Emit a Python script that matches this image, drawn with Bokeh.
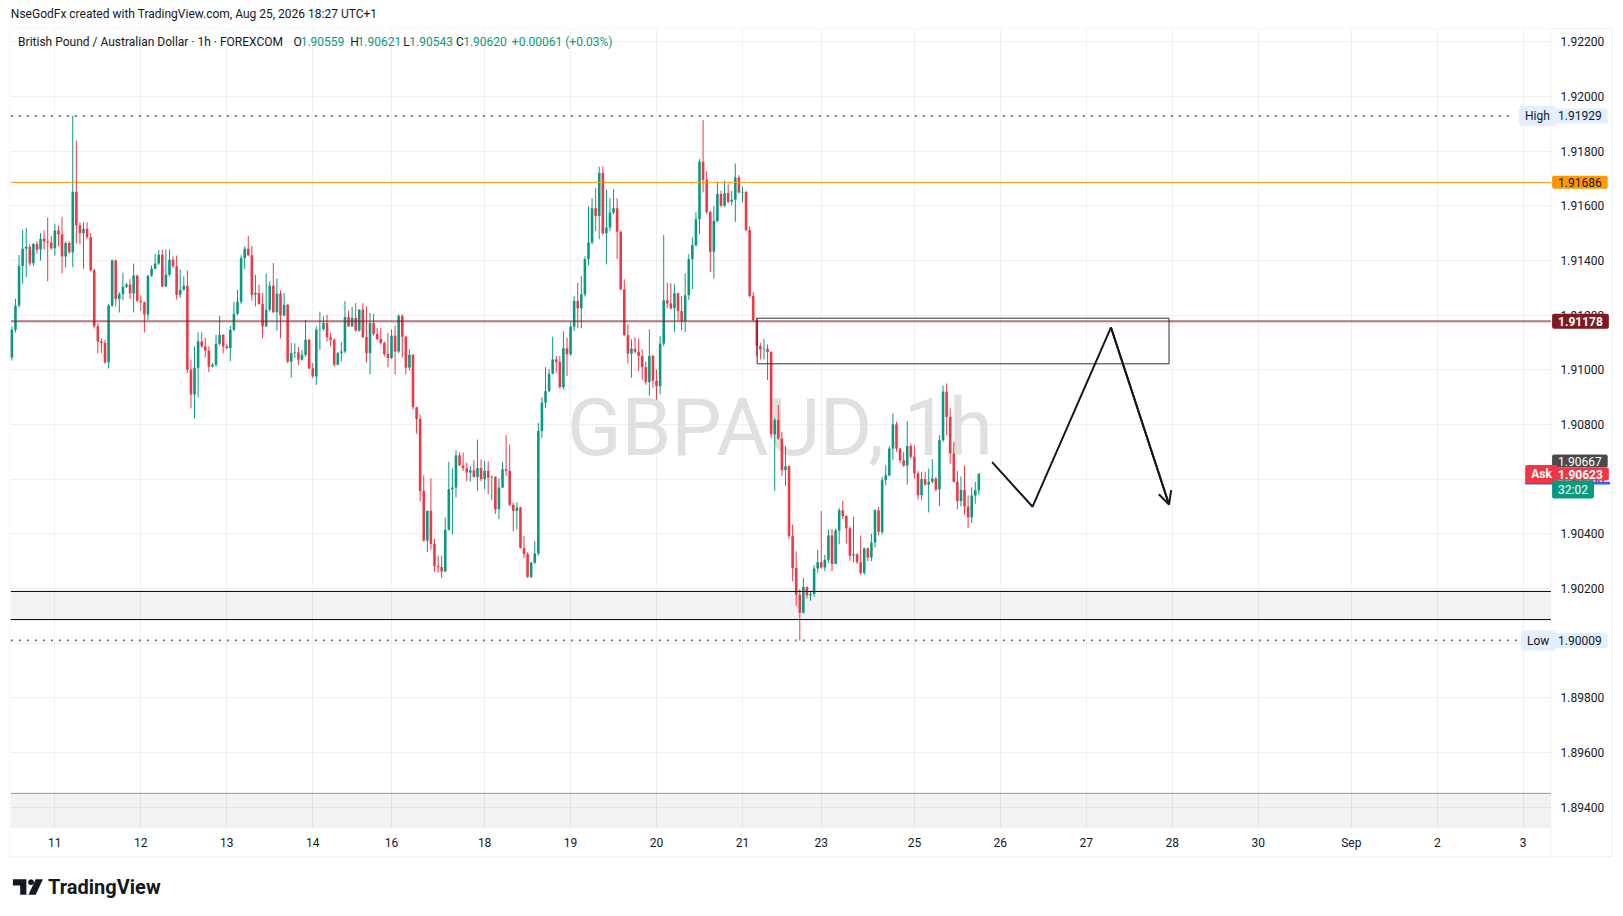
import numpy as np
from bokeh.plotting import figure
from bokeh.models import (ColumnDataSource, Range1d, FixedTicker, PrintfTickFormatter,
                          BoxAnnotation, Label, Arrow, OpenHead, PolyAnnotation)
from bokeh.core.properties import value
from bokeh.embed import file_html
from bokeh.resources import INLINE

# GBPAUD 1h candles, oldest first (bar 0 = Aug 10, 12:00)
opens = [
    1.91045, 1.91147, 1.91235, 1.91380, 1.91443, 1.91450, 1.91390, 1.91460, 1.91440, 1.91480,
    1.91470, 1.91466, 1.91445, 1.91510, 1.91496, 1.91415, 1.91464, 1.91430, 1.91652, 1.91529,
    1.91500, 1.91516, 1.91485, 1.91364, 1.91159, 1.91104, 1.91098, 1.91028, 1.91235, 1.91400,
    1.91259, 1.91277, 1.91304, 1.91312, 1.91279, 1.91345, 1.91253, 1.91247, 1.91202, 1.91345,
    1.91370, 1.91389, 1.91421, 1.91305, 1.91348, 1.91403, 1.91379, 1.91275, 1.91293, 1.91308,
    1.91000, 1.90910, 1.91008, 1.91104, 1.91086, 1.91071, 1.91012, 1.91019, 1.91095, 1.91128,
    1.91085, 1.91080, 1.91147, 1.91205, 1.91249, 1.91408, 1.91443, 1.91419, 1.91275, 1.91281,
    1.91241, 1.91159, 1.91220, 1.91308, 1.91211, 1.91279, 1.91199, 1.91238, 1.91030, 1.91061,
    1.91064, 1.91037, 1.91055, 1.91110, 1.91005, 1.90976, 1.91147, 1.91149, 1.91171, 1.91119,
    1.91110, 1.91019, 1.91061, 1.91067, 1.91193, 1.91159, 1.91190, 1.91144, 1.91220, 1.91120,
    1.91061, 1.91171, 1.91131, 1.91113, 1.91098, 1.91058, 1.91043, 1.91125, 1.91067, 1.91197,
    1.91121, 1.91008, 1.91055, 1.90863, 1.90820, 1.90557, 1.90375, 1.90484, 1.90363, 1.90282,
    1.90278, 1.90262, 1.90415, 1.90563, 1.90569, 1.90687, 1.90650, 1.90640, 1.90624, 1.90632,
    1.90608, 1.90640, 1.90600, 1.90630, 1.90606, 1.90608, 1.90490, 1.90569, 1.90636, 1.90630,
    1.90506, 1.90484, 1.90496, 1.90348, 1.90326, 1.90242, 1.90294, 1.90328, 1.90776, 1.90880,
    1.90922, 1.90986, 1.91038, 1.91029, 1.90937, 1.91079, 1.91057, 1.91158, 1.91252, 1.91225,
    1.91276, 1.91405, 1.91466, 1.91591, 1.91563, 1.91720, 1.91500, 1.91521, 1.91576, 1.91591,
    1.91505, 1.91295, 1.91127, 1.91059, 1.91077, 1.91066, 1.91051, 1.91010, 1.90955, 1.91051,
    1.90960, 1.90940, 1.91096, 1.91254, 1.91243, 1.91225, 1.91280, 1.91215, 1.91179, 1.91273,
    1.91405, 1.91456, 1.91551, 1.91761, 1.91695, 1.91578, 1.91432, 1.91545, 1.91643, 1.91600,
    1.91646, 1.91615, 1.91622, 1.91704, 1.91649, 1.91651, 1.91512, 1.91270, 1.91182, 1.91087,
    1.91075, 1.91077, 1.91065, 1.90764, 1.90816, 1.90749, 1.90633, 1.90647, 1.90392, 1.90275,
    1.90177, 1.90111, 1.90205, 1.90175, 1.90180, 1.90273, 1.90296, 1.90277, 1.90305, 1.90394,
    1.90290, 1.90412, 1.90486, 1.90465, 1.90420, 1.90320, 1.90325, 1.90296, 1.90257, 1.90346,
    1.90313, 1.90368, 1.90486, 1.90407, 1.90596, 1.90614, 1.90712, 1.90800, 1.90712, 1.90669,
    1.90649, 1.90721, 1.90682, 1.90621, 1.90541, 1.90600, 1.90580, 1.90590, 1.90602, 1.90562,
    1.90743, 1.90920, 1.90828, 1.90694, 1.90590, 1.90520, 1.90560, 1.90500, 1.90460, 1.90540,
    1.90559,
]
highs = [
    1.91159, 1.91260, 1.91420, 1.91513, 1.91520, 1.91460, 1.91464, 1.91470, 1.91500, 1.91510,
    1.91557, 1.91490, 1.91535, 1.91528, 1.91560, 1.91470, 1.91470, 1.91929, 1.91838, 1.91540,
    1.91540, 1.91540, 1.91500, 1.91370, 1.91171, 1.91115, 1.91110, 1.91242, 1.91404, 1.91404,
    1.91284, 1.91356, 1.91318, 1.91332, 1.91389, 1.91348, 1.91273, 1.91250, 1.91345, 1.91382,
    1.91424, 1.91439, 1.91439, 1.91441, 1.91441, 1.91415, 1.91418, 1.91367, 1.91342, 1.91363,
    1.91037, 1.91086, 1.91138, 1.91138, 1.91117, 1.91086, 1.91025, 1.91128, 1.91198, 1.91130,
    1.91095, 1.91161, 1.91249, 1.91293, 1.91419, 1.91452, 1.91491, 1.91454, 1.91348, 1.91312,
    1.91281, 1.91353, 1.91324, 1.91391, 1.91334, 1.91291, 1.91281, 1.91242, 1.91098, 1.91097,
    1.91084, 1.91073, 1.91183, 1.91113, 1.91025, 1.91159, 1.91213, 1.91196, 1.91202, 1.91135,
    1.91115, 1.91065, 1.91102, 1.91251, 1.91216, 1.91230, 1.91244, 1.91222, 1.91244, 1.91232,
    1.91208, 1.91205, 1.91153, 1.91153, 1.91104, 1.91135, 1.91147, 1.91161, 1.91204, 1.91204,
    1.91125, 1.91075, 1.91058, 1.90865, 1.90836, 1.90614, 1.90485, 1.90603, 1.90381, 1.90320,
    1.90320, 1.90460, 1.90664, 1.90640, 1.90705, 1.90697, 1.90697, 1.90660, 1.90648, 1.90669,
    1.90745, 1.90672, 1.90666, 1.90666, 1.90614, 1.90610, 1.90602, 1.90663, 1.90761, 1.90727,
    1.90515, 1.90515, 1.90499, 1.90391, 1.90332, 1.90298, 1.90373, 1.90806, 1.90900, 1.91010,
    1.91002, 1.91121, 1.91051, 1.91051, 1.91141, 1.91118, 1.91173, 1.91270, 1.91319, 1.91344,
    1.91415, 1.91598, 1.91628, 1.91665, 1.91743, 1.91744, 1.91659, 1.91628, 1.91661, 1.91628,
    1.91510, 1.91331, 1.91167, 1.91112, 1.91118, 1.91114, 1.91075, 1.91030, 1.91148, 1.91055,
    1.91000, 1.91124, 1.91493, 1.91319, 1.91317, 1.91313, 1.91283, 1.91270, 1.91353, 1.91423,
    1.91484, 1.91576, 1.91771, 1.91914, 1.91726, 1.91582, 1.91600, 1.91688, 1.91655, 1.91692,
    1.91679, 1.91655, 1.91755, 1.91712, 1.91671, 1.91655, 1.91524, 1.91285, 1.91191, 1.91099,
    1.91114, 1.91093, 1.91069, 1.90824, 1.90871, 1.90773, 1.90721, 1.90651, 1.90434, 1.90336,
    1.90197, 1.90238, 1.90208, 1.90190, 1.90285, 1.90340, 1.90483, 1.90323, 1.90415, 1.90418,
    1.90418, 1.90495, 1.90521, 1.90468, 1.90427, 1.90462, 1.90328, 1.90394, 1.90350, 1.90350,
    1.90400, 1.90490, 1.90498, 1.90608, 1.90651, 1.90720, 1.90840, 1.90810, 1.90715, 1.90700,
    1.90812, 1.90730, 1.90724, 1.90629, 1.90627, 1.90627, 1.90639, 1.90673, 1.90608, 1.90761,
    1.90942, 1.90950, 1.90859, 1.90737, 1.90630, 1.90610, 1.90650, 1.90540, 1.90570, 1.90590,
    1.90621,
]
lows = [
    1.91034, 1.91137, 1.91227, 1.91315, 1.91340, 1.91380, 1.91380, 1.91425, 1.91400, 1.91440,
    1.91324, 1.91440, 1.91418, 1.91452, 1.91353, 1.91375, 1.91425, 1.91376, 1.91463, 1.91460,
    1.91370, 1.91480, 1.91360, 1.91152, 1.91061, 1.91061, 1.91021, 1.91005, 1.91230, 1.91232,
    1.91210, 1.91255, 1.91300, 1.91260, 1.91210, 1.91247, 1.91216, 1.91137, 1.91183, 1.91340,
    1.91367, 1.91384, 1.91302, 1.91303, 1.91342, 1.91373, 1.91257, 1.91263, 1.91290, 1.90988,
    1.90859, 1.90822, 1.90899, 1.91080, 1.91045, 1.90992, 1.91009, 1.91012, 1.91089, 1.91060,
    1.91075, 1.91032, 1.91141, 1.91200, 1.91240, 1.91369, 1.91415, 1.91253, 1.91232, 1.91238,
    1.91115, 1.91157, 1.91213, 1.91208, 1.91144, 1.91115, 1.91196, 1.91025, 1.90972, 1.91043,
    1.91016, 1.91034, 1.91049, 1.91003, 1.90970, 1.90945, 1.91074, 1.91144, 1.91104, 1.91086,
    1.91012, 1.91016, 1.91031, 1.91061, 1.91157, 1.91157, 1.91140, 1.91140, 1.91116, 1.91027,
    1.90983, 1.91125, 1.91108, 1.91092, 1.91049, 1.91009, 1.91040, 1.90983, 1.91061, 1.91045,
    1.90984, 1.90998, 1.90854, 1.90766, 1.90518, 1.90371, 1.90333, 1.90342, 1.90260, 1.90257,
    1.90238, 1.90260, 1.90412, 1.90397, 1.90533, 1.90648, 1.90630, 1.90593, 1.90590, 1.90606,
    1.90557, 1.90593, 1.90563, 1.90545, 1.90524, 1.90472, 1.90454, 1.90567, 1.90612, 1.90502,
    1.90408, 1.90415, 1.90346, 1.90311, 1.90238, 1.90238, 1.90290, 1.90320, 1.90750, 1.90860,
    1.90919, 1.90983, 1.90990, 1.90931, 1.90928, 1.90977, 1.91051, 1.91142, 1.91152, 1.91152,
    1.91268, 1.91383, 1.91460, 1.91508, 1.91478, 1.91493, 1.91386, 1.91508, 1.91570, 1.91405,
    1.91290, 1.91124, 1.91022, 1.90971, 1.91060, 1.90996, 1.90963, 1.90945, 1.90906, 1.90935,
    1.90890, 1.90910, 1.91087, 1.91225, 1.91220, 1.91138, 1.91179, 1.91145, 1.91138, 1.91256,
    1.91295, 1.91451, 1.91496, 1.91649, 1.91570, 1.91358, 1.91334, 1.91540, 1.91595, 1.91595,
    1.91610, 1.91602, 1.91541, 1.91645, 1.91612, 1.91508, 1.91265, 1.91175, 1.91051, 1.91038,
    1.91038, 1.90963, 1.90751, 1.90557, 1.90745, 1.90611, 1.90575, 1.90380, 1.90226, 1.90136,
    1.90009, 1.90108, 1.90163, 1.90155, 1.90169, 1.90257, 1.90273, 1.90263, 1.90293, 1.90263,
    1.90289, 1.90361, 1.90454, 1.90364, 1.90301, 1.90296, 1.90290, 1.90250, 1.90250, 1.90300,
    1.90300, 1.90350, 1.90395, 1.90397, 1.90578, 1.90610, 1.90669, 1.90700, 1.90660, 1.90645,
    1.90580, 1.90675, 1.90602, 1.90525, 1.90523, 1.90575, 1.90478, 1.90585, 1.90555, 1.90502,
    1.90735, 1.90761, 1.90657, 1.90588, 1.90490, 1.90500, 1.90470, 1.90420, 1.90440, 1.90510,
    1.90543,
]
closes = [
    1.91147, 1.91235, 1.91380, 1.91443, 1.91450, 1.91390, 1.91460, 1.91440, 1.91480, 1.91470,
    1.91466, 1.91445, 1.91510, 1.91496, 1.91415, 1.91464, 1.91430, 1.91652, 1.91529, 1.91500,
    1.91516, 1.91485, 1.91364, 1.91159, 1.91104, 1.91098, 1.91028, 1.91235, 1.91400, 1.91259,
    1.91277, 1.91304, 1.91312, 1.91279, 1.91345, 1.91253, 1.91247, 1.91202, 1.91345, 1.91370,
    1.91389, 1.91421, 1.91305, 1.91348, 1.91403, 1.91379, 1.91275, 1.91293, 1.91308, 1.91000,
    1.90910, 1.91008, 1.91104, 1.91086, 1.91071, 1.91012, 1.91019, 1.91095, 1.91128, 1.91085,
    1.91080, 1.91147, 1.91205, 1.91249, 1.91408, 1.91443, 1.91419, 1.91275, 1.91281, 1.91241,
    1.91159, 1.91220, 1.91308, 1.91211, 1.91279, 1.91199, 1.91238, 1.91030, 1.91061, 1.91064,
    1.91037, 1.91055, 1.91110, 1.91005, 1.90976, 1.91147, 1.91149, 1.91171, 1.91119, 1.91110,
    1.91019, 1.91061, 1.91067, 1.91193, 1.91159, 1.91190, 1.91144, 1.91220, 1.91120, 1.91061,
    1.91171, 1.91131, 1.91113, 1.91098, 1.91058, 1.91043, 1.91125, 1.91067, 1.91197, 1.91121,
    1.91008, 1.91055, 1.90863, 1.90820, 1.90557, 1.90375, 1.90484, 1.90363, 1.90282, 1.90278,
    1.90262, 1.90415, 1.90563, 1.90569, 1.90687, 1.90650, 1.90640, 1.90624, 1.90632, 1.90608,
    1.90640, 1.90600, 1.90630, 1.90606, 1.90608, 1.90490, 1.90569, 1.90636, 1.90630, 1.90506,
    1.90484, 1.90496, 1.90348, 1.90326, 1.90242, 1.90294, 1.90328, 1.90776, 1.90880, 1.90922,
    1.90986, 1.91038, 1.91029, 1.90937, 1.91079, 1.91057, 1.91158, 1.91252, 1.91225, 1.91276,
    1.91405, 1.91466, 1.91591, 1.91563, 1.91720, 1.91500, 1.91521, 1.91576, 1.91591, 1.91505,
    1.91295, 1.91127, 1.91059, 1.91077, 1.91066, 1.91051, 1.91010, 1.90955, 1.91051, 1.90960,
    1.90940, 1.91096, 1.91254, 1.91243, 1.91225, 1.91280, 1.91215, 1.91179, 1.91273, 1.91405,
    1.91456, 1.91551, 1.91761, 1.91695, 1.91578, 1.91432, 1.91545, 1.91643, 1.91600, 1.91646,
    1.91615, 1.91622, 1.91704, 1.91649, 1.91651, 1.91512, 1.91270, 1.91182, 1.91087, 1.91075,
    1.91077, 1.91065, 1.90764, 1.90816, 1.90749, 1.90633, 1.90647, 1.90392, 1.90275, 1.90177,
    1.90111, 1.90205, 1.90175, 1.90180, 1.90273, 1.90296, 1.90277, 1.90305, 1.90394, 1.90290,
    1.90412, 1.90486, 1.90465, 1.90420, 1.90320, 1.90325, 1.90296, 1.90257, 1.90346, 1.90313,
    1.90368, 1.90486, 1.90407, 1.90596, 1.90614, 1.90712, 1.90800, 1.90712, 1.90669, 1.90649,
    1.90721, 1.90682, 1.90621, 1.90541, 1.90600, 1.90580, 1.90590, 1.90602, 1.90562, 1.90743,
    1.90920, 1.90828, 1.90694, 1.90590, 1.90520, 1.90560, 1.90500, 1.90460, 1.90540, 1.90559,
    1.90620,
]

# time scale: bar index of each date label (weekend gaps are skipped, like TradingView)
time_tick_bars = [12, 36, 60, 84, 106, 132, 156, 180, 204, 226, 252, 276, 300, 324, 348, 374, 398, 422]
time_tick_labels = ["11", "12", "13", "14", "16", "18", "19", "20", "21", "23", "25",
                    "26", "27", "28", "30", "Sep", "2", "3"]
price_ticks = [1.894, 1.896, 1.898, 1.900, 1.902, 1.904, 1.906, 1.908, 1.910,
               1.912, 1.914, 1.916, 1.918, 1.920, 1.922]

# levels and drawings
session_high = 1.91929
session_low = 1.90009
orange_level = 1.91686
red_level = 1.91178
demand_top = 1.90189
demand_bottom = 1.90086
lower_band_top = 1.89450
zone_bars = [208.1, 323.1]
zone_prices = [1.91022, 1.91189]
path_bars = [273.7, 285.0, 306.9, 323.1]
path_prices = [1.90662, 1.90499, 1.91155, 1.90507]

UP = "#089981"
DOWN = "#f23645"
INK = "#131722"
FONT = "Roboto"

# layout positions below are measured on the 1568-wide view of the snapshot
S = 1568 / 1623
FW, FH = 1614, 904  # frame covers the whole snapshot; scales are drawn inside it


def bx(px):
    return -0.29 + (px - 10) * 430.06 / 1488


def py(px):
    return 1.922455 - (px - 28) * 0.029243 / 772


p = figure(frame_width=FW, frame_height=FH,
           x_range=Range1d(bx(0), bx(FW * S)), y_range=Range1d(py(FH * S), py(0)),
           y_axis_location="right", output_backend="svg", toolbar_location=None,
           min_border_left=0, min_border_top=0, min_border_right=3, min_border_bottom=3,
           background_fill_color="white", border_fill_color="white")
p.outline_line_color = None

p.xaxis.ticker = FixedTicker(ticks=time_tick_bars)
p.xaxis.major_label_overrides = {b: t for b, t in zip(time_tick_bars, time_tick_labels)}
p.yaxis.ticker = FixedTicker(ticks=price_ticks)
p.yaxis.formatter = PrintfTickFormatter(format="%.5f")
for ax in (p.xaxis, p.yaxis):
    ax.major_tick_line_color = None
    ax.minor_tick_line_color = None
    ax.axis_line_color = None
    ax.major_label_text_font = FONT
    ax.major_label_text_font_size = "12px"
    ax.major_label_text_color = INK
p.yaxis.major_label_standoff = round(1501 / S) - FW
p.xaxis.major_label_standoff = round(801 / S) - FH
p.xgrid.grid_line_color = "#f0f0f0"
p.ygrid.grid_line_color = "#f0f0f0"

# bands behind the candles
p.add_layout(BoxAnnotation(left=bx(10), right=bx(1498), bottom=demand_bottom, top=demand_top,
                           fill_color="#000000", fill_alpha=0.05, line_color=None, level="underlay"))
p.add_layout(BoxAnnotation(left=bx(10), right=bx(1498), bottom=py(800), top=lower_band_top,
                           fill_color="#000000", fill_alpha=0.05, line_color=None, level="underlay"))

# white margins around the chart pane hide the grid outside it
for box in (dict(left=bx(1498)), dict(top=py(800)), dict(bottom=py(28)), dict(right=bx(10))):
    p.add_layout(BoxAnnotation(fill_color="white", fill_alpha=1, line_color=None,
                               level="underlay", **box))

# watermark
p.text(x=[bx(753)], y=[py(413)], text=["GBPAUD, 1h"], text_font=value(FONT),
       text_font_size="80px", text_color="#e0e0e0", text_align="center", text_baseline="middle")

# candles
bars = list(range(len(closes)))
src = ColumnDataSource(dict(
    x=bars, high=highs, low=lows,
    top=[max(o, c) for o, c in zip(opens, closes)],
    bottom=[min(o, c) for o, c in zip(opens, closes)],
    color=[UP if c >= o else DOWN for o, c in zip(opens, closes)],
))
p.segment(x0="x", y0="high", x1="x", y1="low", line_color="color", line_width=1, source=src)
p.vbar(x="x", width=0.72, top="top", bottom="bottom", fill_color="color", line_color=None, source=src)

# high / low markers
p.segment(x0=[bx(10), bx(10)], y0=[session_high, session_low], x1=[bx(1463), bx(1466)],
          y1=[session_high, session_low], line_color="#787b86", line_width=2, line_dash="2 6")

# horizontal levels, ending at the price scale
p.segment(x0=[bx(10)] * 2, x1=[bx(1498)] * 2, y0=[demand_top, demand_bottom],
          y1=[demand_top, demand_bottom], line_color="#000000", line_width=1)
p.segment(x0=[bx(10)], x1=[bx(1498)], y0=[lower_band_top], y1=[lower_band_top],
          line_color="#9598a1", line_width=1)
p.segment(x0=[bx(10)], x1=[bx(1498)], y0=[orange_level], y1=[orange_level],
          line_color="#ff9800", line_width=1)
p.segment(x0=[bx(10)], x1=[bx(1498)], y0=[red_level], y1=[red_level],
          line_color="#801922", line_alpha=0.6, line_width=2)

# zone box and projected path
p.quad(left=[zone_bars[0]], right=[zone_bars[1]], bottom=[zone_prices[0]], top=[zone_prices[1]],
       fill_alpha=0, line_color="#2a2e39", line_width=1)
p.line(path_bars, path_prices, line_color=INK, line_width=2)
p.add_layout(Arrow(end=OpenHead(size=13, line_width=2, line_color=INK),
                   x_start=path_bars[-2], y_start=path_prices[-2],
                   x_end=path_bars[-1], y_end=path_prices[-1],
                   line_color=INK, line_width=2))

# pane border and price-scale separator
for l, r in ((9, 1557), (1498, 1557)):
    p.add_layout(BoxAnnotation(left=bx(l), right=bx(r), top=py(27), bottom=py(827),
                               fill_alpha=0, line_color="#e0e3eb", line_width=1))


def tag(text, box_left, price, bg, fg=INK, bold=False, pad_y=2):
    # the label anchor is the left edge of its padded box
    p.add_layout(Label(x=bx(box_left), y=price, text=text, text_font=FONT, text_font_size="12px",
                       text_color=fg, text_font_style="bold" if bold else "normal",
                       text_align="left", text_baseline="middle",
                       background_fill_color=bg, background_fill_alpha=1.0,
                       padding=(6, pad_y), border_radius=2, level="overlay"))


# price scale tags
tag("High", 1467, session_high, "#e3effd", pad_y=3)
tag("1.91929", 1499, session_high, "#e3effd", pad_y=3)
tag("1.91686", 1499, orange_level, "#ff9800")
tag("1.91178", 1499, red_level, "#801922", "white", True, pad_y=3)
tag("1.90667", 1499, py(445), "#4a4a4a", "white")
p.add_layout(BoxAnnotation(left=bx(1473), right=bx(1555), top=py(465), bottom=py(467.5),
                           fill_color="#2962ff", fill_alpha=1, line_color=None, level="overlay"))
tag("Ask", 1473, py(457.5), DOWN, "white", True)
tag("1.90623", 1499, py(457.5), DOWN, "white", True)
tag("32:02", 1499, py(472.5), UP, "white")
tag("Low", 1469, session_low, "#e3effd", pad_y=3)
tag("1.90009", 1499, session_low, "#e3effd", pad_y=3)


def text_at(text, px_left, px_mid, color=INK, size="12px", style="normal"):
    p.add_layout(Label(x=bx(px_left), y=py(px_mid), text=text, text_font=FONT, text_font_size=size,
                       text_color=color, text_font_style=style, text_align="left",
                       text_baseline="middle", level="overlay"))


# snapshot header and legend
text_at("NseGodFx created with TradingView.com, Aug 25, 2026 18:27 UTC+1", 10, 13)
text_at("British Pound / Australian Dollar \u00b7 1h \u00b7 FOREXCOM", 17, 40)
for letter, num, lx, nx in (("O", "1.90559", 283, 290), ("H", "1.90621", 338, 345),
                            ("L", "1.90543", 389, 395), ("C", "1.90620", 440, 447)):
    text_at(letter, lx, 40)
    text_at(num, nx, 40, UP)
text_at("+0.00061 (+0.03%)", 494, 40, UP)

# TradingView logo
logo_t = [(12, 849), (25, 849), (25, 864), (19, 864), (19, 855), (12, 855)]
logo_slash = [(34, 849), (41, 849), (34, 864), (27, 864)]
for shape in (logo_t, logo_slash):
    p.add_layout(PolyAnnotation(xs=[bx(a) for a, _ in shape], ys=[py(b) for _, b in shape],
                                fill_color=INK, fill_alpha=1, line_color=None, level="overlay"))
ang = np.linspace(0, 2 * np.pi, 13)[:-1]
p.add_layout(PolyAnnotation(xs=list(bx(29.5 + 2.8 * np.cos(ang))), ys=list(py(851.8 + 2.8 * np.sin(ang))),
                            fill_color=INK, fill_alpha=1, line_color=None, level="overlay"))
text_at("TradingView", 46, 856, INK, "20px", "bold")

open("out.html", "w").write(file_html(p, INLINE))
